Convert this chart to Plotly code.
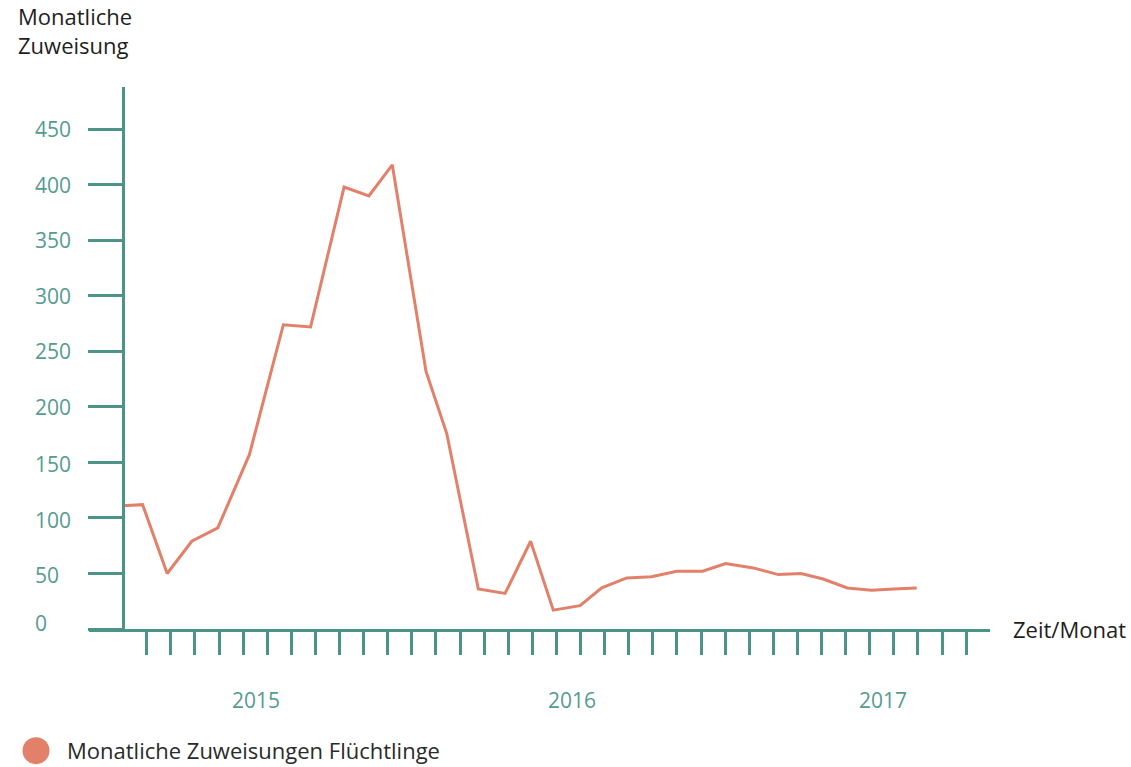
import plotly.graph_objects as go

# Month position (0 = y-axis, one unit per month tick) and monthly allocations
month_pos = [0, 0.83, 1.85, 2.87, 3.95, 5.26, 6.67, 7.80, 9.19, 10.22, 11.19,
             12.59, 13.45, 14.76, 15.87, 16.93, 17.87, 18.98, 19.88, 20.92,
             21.95, 22.99, 24.07, 25.02, 26.17, 27.21, 28.15, 29.07, 30.07,
             31.08, 32.0, 32.95]
zuweisungen = [111, 112, 50, 79, 91, 157, 274, 272, 398, 390, 418,
               232, 176, 36, 32, 79, 17, 21, 37, 46,
               47, 52, 52, 59, 55, 49, 50, 45, 37,
               35, 36, 37]

month_ticks = list(range(1, 36))
y_ticks = [0, 50, 100, 150, 200, 250, 300, 350, 400, 450]
year_labels = ["2015", "2016", "2017"]
year_pos = [5.54, 18.65, 31.55]
title_lines = ["Monatliche", "Zuweisung"]

TEAL = "#4d9488"
TEAL_TXT = "#559b90"
SALMON = "#e2806a"
FONT = "Open Sans"
FS_NUM = 21
FS_TXT = 22

fig = go.Figure()
fig.add_trace(go.Scatter(
    x=month_pos, y=zuweisungen, mode="lines",
    line=dict(color=SALMON, width=3),
    name="Monatliche Zuweisungen Flüchtlinge",
    showlegend=False, hoverinfo="x+y",
))

W, H = 1131, 767
L, R, T, B = 89, 990, 87, 629.3
pw, ph = R - L, B - T

annotations = []
for v in y_ticks:
    annotations.append(dict(
        x=(33 - L) / pw, xref="paper", xanchor="left",
        y=v, yref="y", yanchor="middle",
        yshift=(6 if v == 0 else -2 if v in (50, 100, 150) else 0),
        text=str(v), showarrow=False,
        font=dict(family=FONT, size=FS_NUM, color=TEAL_TXT),
    ))
for lab, xp in zip(year_labels, year_pos):
    annotations.append(dict(
        x=xp, xref="x", xanchor="center",
        y=(B - 700) / ph, yref="paper", yanchor="middle",
        text=lab, showarrow=False,
        font=dict(family=FONT, size=FS_NUM, color=TEAL_TXT),
    ))
annotations.append(dict(
    x=(1011 - L) / pw, xref="paper", xanchor="left",
    y=0, yref="paper", yanchor="middle",
    text="Zeit/Monat", showarrow=False,
    font=dict(family=FONT, size=FS_TXT, color="#1e1e1e"),
))
annotations.append(dict(
    x=(16 - L) / pw, xref="paper", xanchor="left",
    y=(B - 30.5) / ph, yref="paper", yanchor="middle", align="left",
    text="<br>".join(title_lines), showarrow=False,
    font=dict(family=FONT, size=FS_TXT, color="#1e1e1e"),
))
annotations.append(dict(
    x=(65 - L) / pw, xref="paper", xanchor="left",
    y=(B - 750) / ph, yref="paper", yanchor="middle",
    text="Monatliche Zuweisungen Flüchtlinge", showarrow=False,
    font=dict(family=FONT, size=FS_TXT, color="#2a2a2a"),
))

shapes = [dict(
    type="circle", xref="paper", yref="paper",
    x0=(22.5 - L) / pw, x1=(49.5 - L) / pw,
    y0=(B - 764.5) / ph, y1=(B - 737.5) / ph,
    fillcolor=SALMON, line=dict(width=0),
)]

fig.update_layout(
    width=W, height=H,
    margin=dict(l=L, r=W - R, t=T, b=H - B, pad=0),
    paper_bgcolor="white", plot_bgcolor="white",
    font=dict(family=FONT),
    xaxis=dict(
        range=[-(122.6 - L) / 24.1, (R - 122.6) / 24.1],
        showgrid=False, zeroline=False,
        showline=True, linecolor=TEAL, linewidth=3,
        ticks="outside", tickvals=month_ticks, ticklen=23,
        tickwidth=2.5, tickcolor=TEAL, showticklabels=False,
    ),
    yaxis=dict(
        range=[0, (B - T) / 1.1111],
        anchor="free", position=(122.6 - L) / pw,
        showgrid=False, zeroline=False,
        showline=True, linecolor=TEAL, linewidth=3,
        ticks="outside", tickvals=y_ticks, ticklen=34,
        tickwidth=3, tickcolor=TEAL, showticklabels=False,
    ),
    annotations=annotations,
    shapes=shapes,
    showlegend=False,
)

fig.write_html("out.html", config={"displayModeBar": False},
               post_script="document.body.style.margin='0';")
